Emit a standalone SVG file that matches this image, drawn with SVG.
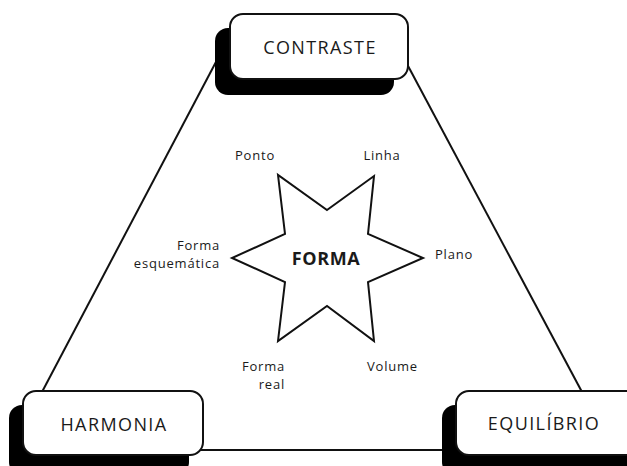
<svg xmlns="http://www.w3.org/2000/svg" width="627" height="466" viewBox="0 0 627 466">
  <style>
    .edge { stroke: #111; stroke-width: 2; fill: none; }
    .shadow { fill: #000; }
    .card { fill: #fff; stroke: #111; stroke-width: 2; }
    .title { font-family: "Open Sans", "Liberation Sans", sans-serif; font-size: 18px; letter-spacing: 1.4px; fill: #1a1a1a; text-anchor: middle; }
    .lbl { font-family: "Open Sans", "Liberation Sans", sans-serif; font-size: 13px; letter-spacing: 0.8px; fill: #1a1a1a; }
    .star { fill: #fff; stroke: #111; stroke-width: 2; stroke-linejoin: miter; }
    .core { font-family: "Open Sans", "Liberation Sans", sans-serif; font-size: 18px; font-weight: bold; letter-spacing: 0.6px; fill: #1a1a1a; text-anchor: middle; }
  </style>

  <!-- triangle edges joining the three cards -->
  <g id="connectors">
    <line class="edge" x1="217" y1="60" x2="42" y2="392"/>
    <line class="edge" x1="407" y1="64" x2="582" y2="392"/>
    <line class="edge" x1="200" y1="450" x2="458" y2="450"/>
  </g>

  <g id="contraste">
    <rect class="shadow" x="215" y="28" width="179" height="67" rx="13"/>
    <rect class="card" x="230" y="14" width="178" height="65" rx="13"/>
    <text class="title" x="320" y="54">CONTRASTE</text>
  </g>

  <g id="harmonia">
    <rect class="shadow" x="9" y="405" width="180" height="70" rx="13"/>
    <rect class="card" x="23" y="391" width="180" height="64" rx="13"/>
    <text class="title" x="114" y="431">HARMONIA</text>
  </g>

  <g id="equilibrio">
    <rect class="shadow" x="442" y="405" width="190" height="70" rx="13"/>
    <rect class="card" x="456" y="391" width="185" height="64" rx="13"/>
    <text class="title" x="544" y="430">EQUILÍBRIO</text>
  </g>

  <g id="forma">
    <polygon class="star" points="327,210 374,176 368,234 423,258 368,282 374,341 327,306 278,341 285,282 232,258 285,234 278,175"/>
    <text class="core" x="326" y="265">FORMA</text>
  </g>

  <g id="labels">
    <text class="lbl" x="255" y="160" text-anchor="middle">Ponto</text>
    <text class="lbl" x="382" y="160" text-anchor="middle">Linha</text>
    <text class="lbl" x="220" y="250" text-anchor="end">Forma</text>
    <text class="lbl" x="220" y="268" text-anchor="end">esquemática</text>
    <text class="lbl" x="435" y="259">Plano</text>
    <text class="lbl" x="285" y="371" text-anchor="end">Forma</text>
    <text class="lbl" x="285" y="389" text-anchor="end">real</text>
    <text class="lbl" x="367" y="371">Volume</text>
  </g>
</svg>
